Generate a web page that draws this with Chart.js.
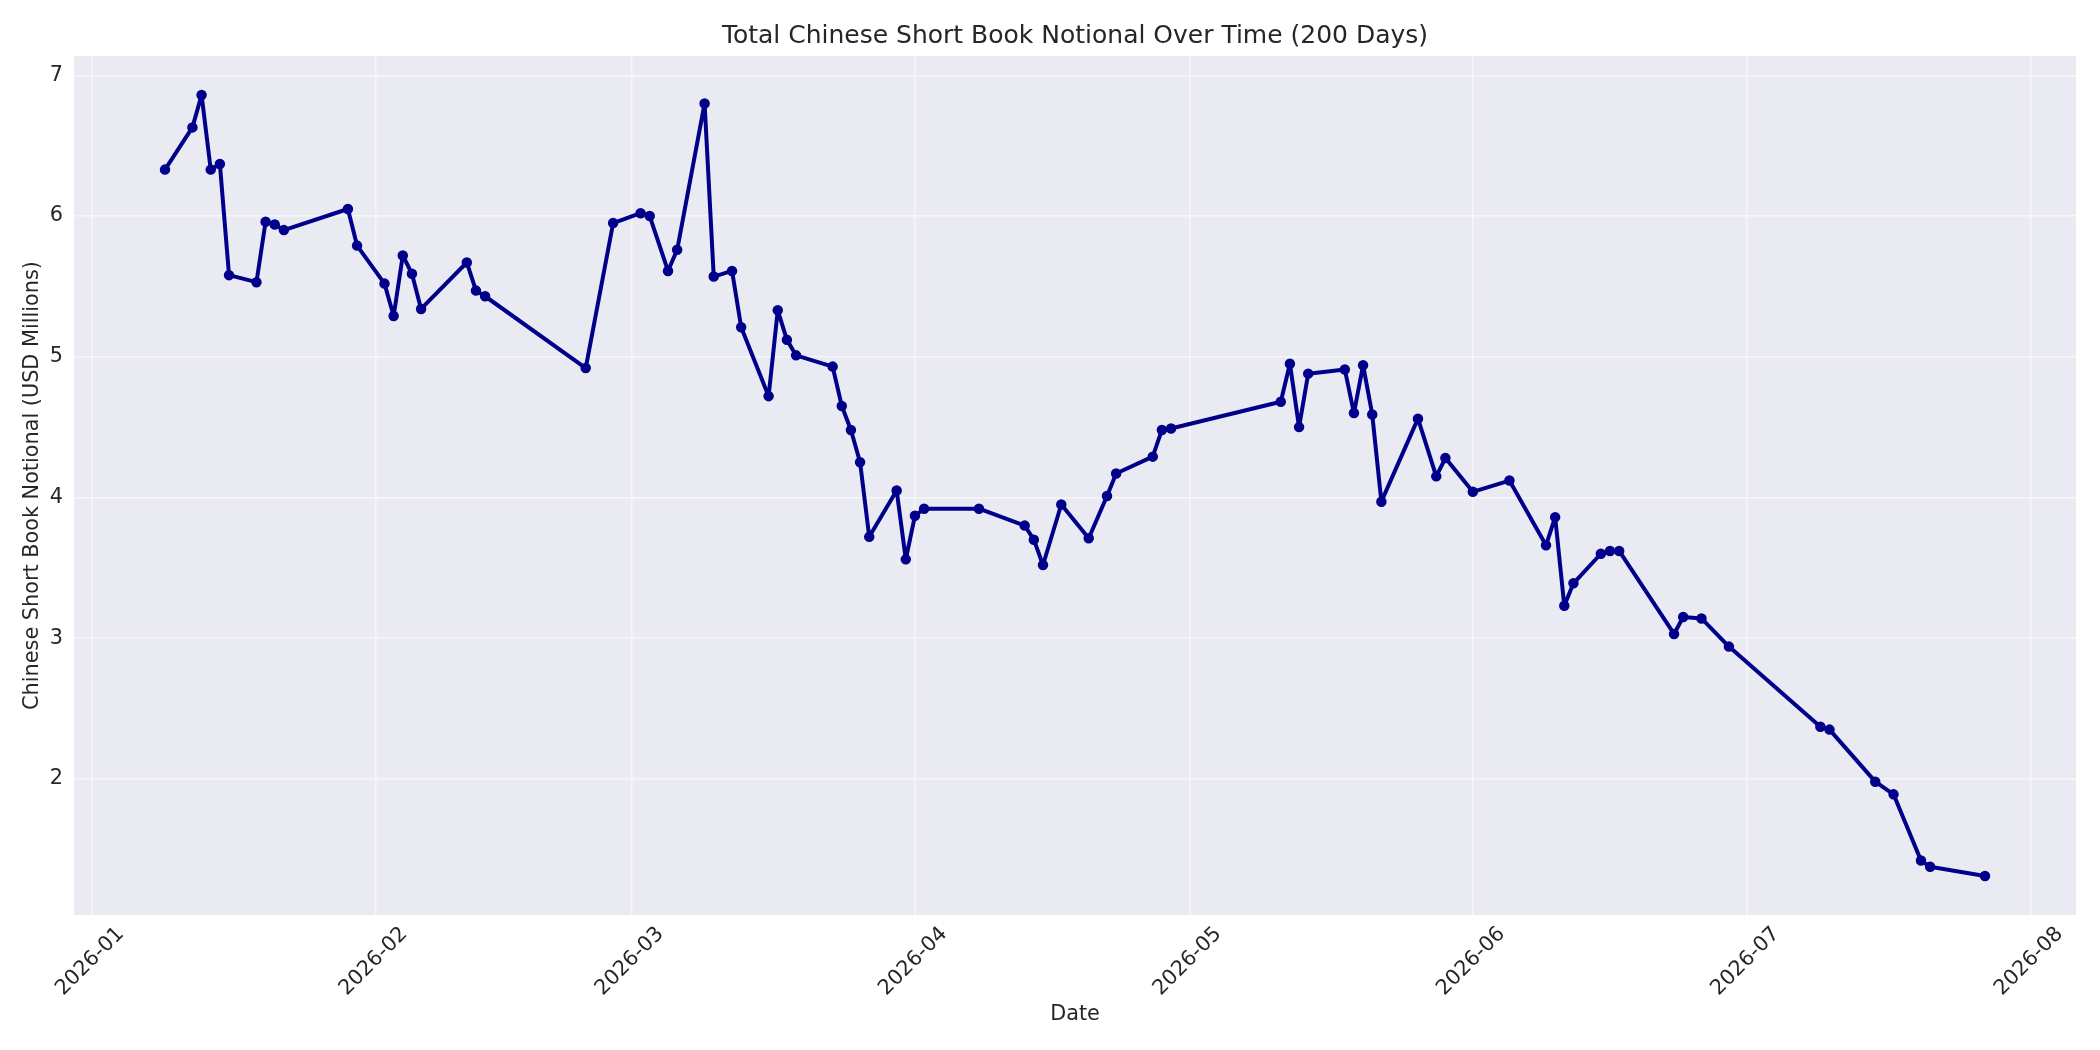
<!DOCTYPE html>
<html>
<head>
<meta charset="utf-8">
<script src="https://cdn.jsdelivr.net/npm/chart.js@4.4.1/dist/chart.umd.min.js"></script>
<style>
  html, body { margin: 0; padding: 0; background: #ffffff; }
  #wrap { width: 2100px; height: 1050px; }
</style>
</head>
<body>
<div id="wrap"><canvas id="c" width="2100" height="1050"></canvas></div>
<script>
// ---- Data ----
const dates = [
  '2026-01-09','2026-01-12','2026-01-13','2026-01-14','2026-01-15','2026-01-16','2026-01-19','2026-01-20','2026-01-21','2026-01-22','2026-01-29','2026-01-30',
  '2026-02-02','2026-02-03','2026-02-04','2026-02-05','2026-02-06','2026-02-11','2026-02-12','2026-02-13','2026-02-24','2026-02-27',
  '2026-03-02','2026-03-03','2026-03-05','2026-03-06','2026-03-09','2026-03-10','2026-03-12','2026-03-13','2026-03-16','2026-03-17','2026-03-18','2026-03-19','2026-03-23','2026-03-24','2026-03-25','2026-03-26','2026-03-27','2026-03-30','2026-03-31',
  '2026-04-01','2026-04-02','2026-04-08','2026-04-13','2026-04-14','2026-04-15','2026-04-17','2026-04-20','2026-04-22','2026-04-23','2026-04-27','2026-04-28','2026-04-29',
  '2026-05-11','2026-05-12','2026-05-13','2026-05-14','2026-05-18','2026-05-19','2026-05-20','2026-05-21','2026-05-22','2026-05-26','2026-05-28','2026-05-29',
  '2026-06-01','2026-06-05','2026-06-09','2026-06-10','2026-06-11','2026-06-12','2026-06-15','2026-06-16','2026-06-17','2026-06-23','2026-06-24','2026-06-26','2026-06-29',
  '2026-07-09','2026-07-10','2026-07-15','2026-07-17','2026-07-20','2026-07-21','2026-07-27'
];
const notionalUsdM = [
  6.33, 6.63, 6.86, 6.33, 6.37, 5.58, 5.53, 5.96, 5.94, 5.90, 6.05, 5.79,
  5.52, 5.29, 5.72, 5.59, 5.34, 5.67, 5.47, 5.43, 4.92, 5.95,
  6.02, 6.00, 5.61, 5.76, 6.80, 5.57, 5.61, 5.21, 4.72, 5.33, 5.12, 5.01, 4.93, 4.65, 4.48, 4.25, 3.72, 4.05, 3.56,
  3.87, 3.92, 3.92, 3.80, 3.70, 3.52, 3.95, 3.71, 4.01, 4.17, 4.29, 4.48, 4.49,
  4.68, 4.95, 4.50, 4.88, 4.91, 4.60, 4.94, 4.59, 3.97, 4.56, 4.15, 4.28,
  4.04, 4.12, 3.66, 3.86, 3.23, 3.39, 3.60, 3.62, 3.62, 3.03, 3.15, 3.14, 2.94,
  2.37, 2.35, 1.98, 1.89, 1.42, 1.375, 1.31
];
const monthTicks = ['2026-01','2026-02','2026-03','2026-04','2026-05','2026-06','2026-07','2026-08'];
const yTicks = [2, 3, 4, 5, 6, 7];

const titleText = 'Total Chinese Short Book Notional Over Time (200 Days)';
const xTitle = 'Date';
const yTitle = 'Chinese Short Book Notional (USD Millions)';

// ---- Build ----
function toMs(s) {
  const p = s.split('-').map(Number);
  return Date.UTC(p[0], p[1] - 1, p[2] || 1);
}
const points = dates.map((d, i) => ({ x: toMs(d), y: notionalUsdM[i] }));
const xs = points.map(p => p.x), ys = points.map(p => p.y);
const xMinD = Math.min(...xs), xMaxD = Math.max(...xs);
const yMinD = Math.min(...ys), yMaxD = Math.max(...ys);
const xPad = (xMaxD - xMinD) * 0.05, yPad = (yMaxD - yMinD) * 0.05;
const monthMs = monthTicks.map(toMs);
function fmtMonth(v) {
  const d = new Date(v);
  return d.getUTCFullYear() + '-' + String(d.getUTCMonth() + 1).padStart(2, '0');
}

const FONT = "'DejaVu Sans', 'Liberation Sans', sans-serif";
const TXT = '#262626';

const bgPlugin = {
  id: 'bg',
  beforeDraw(chart) {
    const { ctx, chartArea: a } = chart;
    ctx.save();
    ctx.fillStyle = '#ffffff';
    ctx.fillRect(0, 0, chart.width, chart.height);
    ctx.fillStyle = '#EAEAF2';
    ctx.fillRect(a.left, a.top, a.right - a.left, a.bottom - a.top);
    ctx.restore();
  }
};

new Chart(document.getElementById('c'), {
  type: 'line',
  data: {
    datasets: [{
      data: points,
      borderColor: '#00008B',
      backgroundColor: '#00008B',
      borderWidth: 4,
      borderJoinStyle: 'round',
      borderCapStyle: 'round',
      pointRadius: 4.5,
      pointBorderWidth: 1.5,
      pointBackgroundColor: '#00008B',
      pointBorderColor: '#00008B',
      tension: 0,
      fill: false
    }]
  },
  options: {
    responsive: false,
    devicePixelRatio: 1,
    animation: false,
    layout: { padding: { left: 0, right: 24, top: 0, bottom: 0 } },
    plugins: {
      legend: { display: false },
      tooltip: { enabled: false },
      title: {
        display: true,
        fullSize: false,
        text: titleText,
        color: TXT,
        font: { family: FONT, size: 25, weight: 'normal' },
        padding: { top: 21, bottom: 5 }
      }
    },
    scales: {
      x: {
        type: 'linear',
        min: xMinD - xPad,
        max: xMaxD + xPad,
        afterBuildTicks(scale) { scale.ticks = monthMs.map(v => ({ value: v })); },
        afterFit(scale) { scale.height = 135; },
        ticks: {
          callback: v => fmtMonth(v),
          maxRotation: 45,
          minRotation: 45,
          autoSkip: false,
          labelOffset: 29,
          padding: 7,
          color: TXT,
          font: { family: FONT, size: 20.8 }
        },
        grid: { color: 'rgba(255,255,255,0.55)', lineWidth: 1.5, drawTicks: false },
        border: { display: false },
        title: {
          display: true,
          text: xTitle,
          color: TXT,
          font: { family: FONT, size: 20.8 },
          padding: { top: 0, bottom: 23 }
        }
      },
      y: {
        type: 'linear',
        min: yMinD - yPad,
        max: yMaxD + yPad,
        afterBuildTicks(scale) { scale.ticks = yTicks.map(v => ({ value: v })); },
        afterFit(scale) { scale.width = 74; },
        ticks: {
          callback: v => String(v),
          padding: 11,
          color: TXT,
          font: { family: FONT, size: 20.8 }
        },
        grid: { color: 'rgba(255,255,255,0.55)', lineWidth: 1.5, drawTicks: false },
        border: { display: false },
        title: {
          display: true,
          text: yTitle,
          color: TXT,
          font: { family: FONT, size: 20.8 },
          padding: { top: 20, bottom: 0 }
        }
      }
    }
  },
  plugins: [bgPlugin]
});
</script>
</body>
</html>
